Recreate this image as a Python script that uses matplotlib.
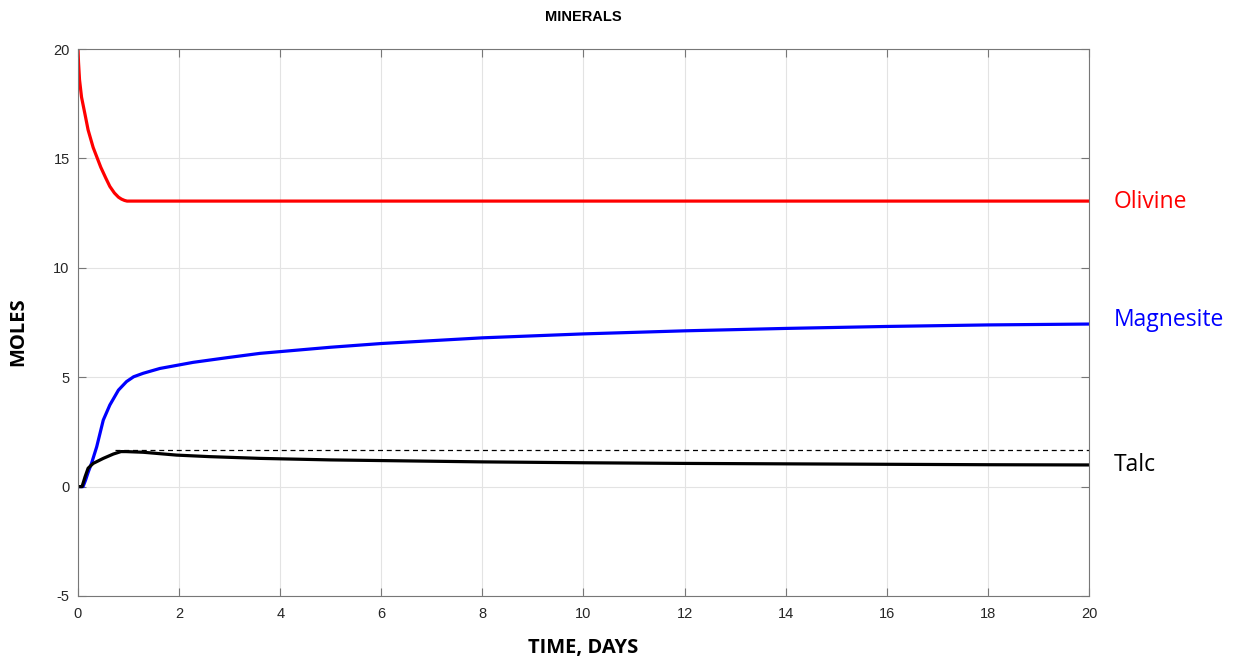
import numpy as np
import matplotlib.pyplot as plt

plt.rcParams['axes.unicode_minus'] = False

# mineral amounts (moles) vs time (days)
t_olivine = [0, 0.01, 0.03, 0.07, 0.14, 0.2, 0.3, 0.37, 0.45, 0.55, 0.63, 0.72, 0.8, 0.86, 0.92, 0.97, 20]
olivine = [20, 19.4, 18.6, 17.8, 17.0, 16.3, 15.5, 15.08, 14.6, 14.1, 13.72, 13.42, 13.23, 13.14, 13.08, 13.05, 13.05]

t_magnesite = [0, 0.1, 0.15, 0.2, 0.27, 0.37, 0.5, 0.63, 0.8, 0.96, 1.1, 1.29, 1.62, 2.28, 2.94, 3.6, 4, 5, 6, 8, 10, 12, 14, 16, 18, 20]
magnesite = [0, 0, 0.3, 0.65, 1.08, 1.82, 3.04, 3.73, 4.41, 4.8, 5.02, 5.18, 5.4, 5.68, 5.89, 6.09, 6.17, 6.37, 6.54, 6.8, 6.98, 7.12, 7.23, 7.32, 7.39, 7.43]

t_talc = [0, 0.08, 0.14, 0.2, 0.3, 0.5, 0.7, 0.85, 0.95, 1.29, 1.95, 2.6, 3.6, 5, 6, 8, 10, 12, 14, 16, 18, 20]
talc = [0, 0, 0.45, 0.84, 1.06, 1.29, 1.49, 1.6, 1.6, 1.57, 1.44, 1.37, 1.29, 1.22, 1.19, 1.13, 1.09, 1.06, 1.04, 1.02, 1.0, 0.99]

talc_max = 1.66
t_talc_max = [0.73, 20]

labels = ['Olivine', 'Magnesite', 'Talc']
label_y = [13.0, 7.6, 1.0]
colors = ['#ff0000', '#0000ff', '#000000']

fig = plt.figure(figsize=(12.44, 6.59), dpi=100)
ax = fig.add_axes([0.0627, 0.0956, 0.8127, 0.83])

ax.plot(t_olivine, olivine, color=colors[0], lw=2.3)
ax.plot(t_magnesite, magnesite, color=colors[1], lw=2.3)
ax.plot(t_talc, talc, color=colors[2], lw=2.3)
ax.plot(t_talc_max, [talc_max, talc_max], color='black', lw=0.9, ls=(0, (4, 3)))

for name, y, c in zip(labels, label_y, colors):
    ax.text(20.48, y, name, color=c, fontsize=16.5, family='Open Sans',
            va='center', ha='left', clip_on=False)

ax.set_xlim(0, 20)
ax.set_ylim(-5, 20)
ax.set_xticks(np.arange(0, 21, 2))
ax.set_yticks(np.arange(-5, 21, 5))
ax.grid(True, color='#e3e3e3', lw=0.8)
ax.set_axisbelow(True)
ax.tick_params(direction='in', top=True, right=True, length=6, width=0.8,
               color='#777777', labelcolor='#262626', labelsize=10.5)
ax.tick_params(axis='x', pad=8)
ax.tick_params(axis='y', pad=6)
for lab in ax.get_xticklabels() + ax.get_yticklabels():
    lab.set_family('Liberation Sans')
for s in ax.spines.values():
    s.set_color('#777777')
    s.set_linewidth(0.8)

ax.set_title('MINERALS', fontsize=10.5, fontweight='bold',
             family='Liberation Sans', pad=20)
ax.set_xlabel('TIME, DAYS', fontsize=14.5, fontweight='bold', family='Open Sans', labelpad=12)
ax.set_ylabel('MOLES', fontsize=14.5, fontweight='bold', family='Open Sans')
ax.yaxis.set_label_coords(-0.049, 0.483)

fig.savefig('out.png', dpi=100)
